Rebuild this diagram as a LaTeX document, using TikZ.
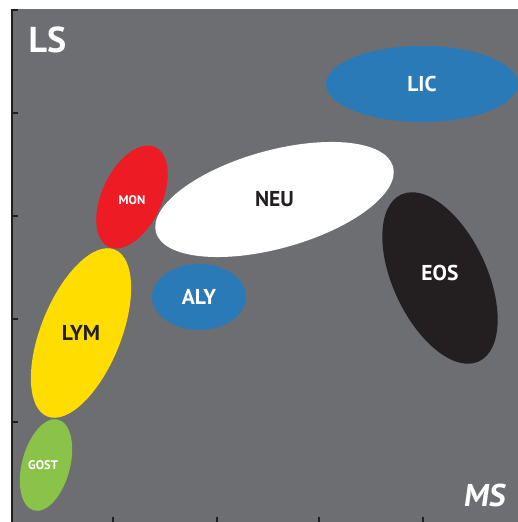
\documentclass[tikz,border=0pt]{standalone}
\usepackage{fontspec}
\setmainfont{PT Sans}
\usetikzlibrary{shapes.geometric}
\definecolor{panelgray}{HTML}{6D6E71}
\definecolor{axisdark}{HTML}{231F20}
\definecolor{cellblue}{HTML}{2A7AB8}
\definecolor{cellred}{HTML}{ED1C24}
\definecolor{cellyellow}{HTML}{FFDD00}
\definecolor{cellgreen}{HTML}{8BC34A}
\definecolor{cellblack}{HTML}{231F20}
\tikzset{
  blob/.style={ellipse, inner sep=0pt, outer sep=0pt},
  lbl/.style={font=\bfseries\fontsize{21.5}{24}\selectfont, text=white},
  smalllbl/.style={font=\bfseries\fontsize{12.5}{14}\selectfont, text=white},
  axislbl/.style={font=\bfseries\fontsize{36}{40}\selectfont, text=white},
  tick/.style={axisdark, line width=1.2pt}
}
\begin{document}
\begin{tikzpicture}[x=1pt,y=1pt]
  \useasboundingbox (0,0) rectangle (518,522);
  \fill[white] (0,0) rectangle (518,522);
  \fill[panelgray] (11,0) rectangle (518,513);

  % axes and ticks
  \draw[axisdark, line width=2pt] (11.5,0) -- (11.5,513);
  \draw[tick] (11.5,512) -- (18,512);
  \foreach \ty in {100,203,306,409}
    \draw[tick] (11.5,\ty) -- (18,\ty);
  \foreach \tx in {113,217,319,423}
    \draw[tick] (\tx,0) -- (\tx,5);

  \node[axislbl, anchor=west] (ls) at (25,482) {LS};
  \node[axislbl, font=\bfseries\fontsize{31.5}{34}\selectfont, xslant=0.14, anchor=east] (ms) at (510,27) {MS};

  % cell clusters
  \node[blob, fill=cellblue, minimum width=192pt, minimum height=76pt] (lic) at (422,438) {};
  \node[blob, fill=white, minimum width=246pt, minimum height=98pt, rotate=15.5] (neu) at (274.5,322.5) {};
  \node[blob, fill=cellred, minimum width=110pt, minimum height=60pt, rotate=65] (mon) at (132,325) {};
  \node[blob, fill=cellyellow, minimum width=180pt, minimum height=80pt, rotate=68] (lym) at (81,189) {};
  \node[blob, fill=cellgreen, minimum width=94pt, minimum height=48pt, rotate=75] (gost) at (46,57) {};
  \node[blob, fill=cellblue, minimum width=94pt, minimum height=66pt] (aly) at (199,225) {};
  \node[blob, fill=cellblack, minimum width=184pt, minimum height=94pt, rotate=115] (eos) at (440,244) {};

  \node[lbl] (liclbl) at (lic) {LIC};
  \node[lbl, text=axisdark] (neulbl) at (neu) {NEU};
  \node[smalllbl] (monlbl) at ([yshift=-3pt]mon.center) {MON};
  \node[lbl, text=axisdark] (lymlbl) at (lym) {LYM};
  \node[smalllbl] (gostlbl) at ([xshift=-3pt]gost.center) {GOST};
  \node[lbl] (alylbl) at (aly) {ALY};
  \node[lbl] (eoslbl) at ([yshift=5pt]eos.center) {EOS};
\end{tikzpicture}
\end{document}
